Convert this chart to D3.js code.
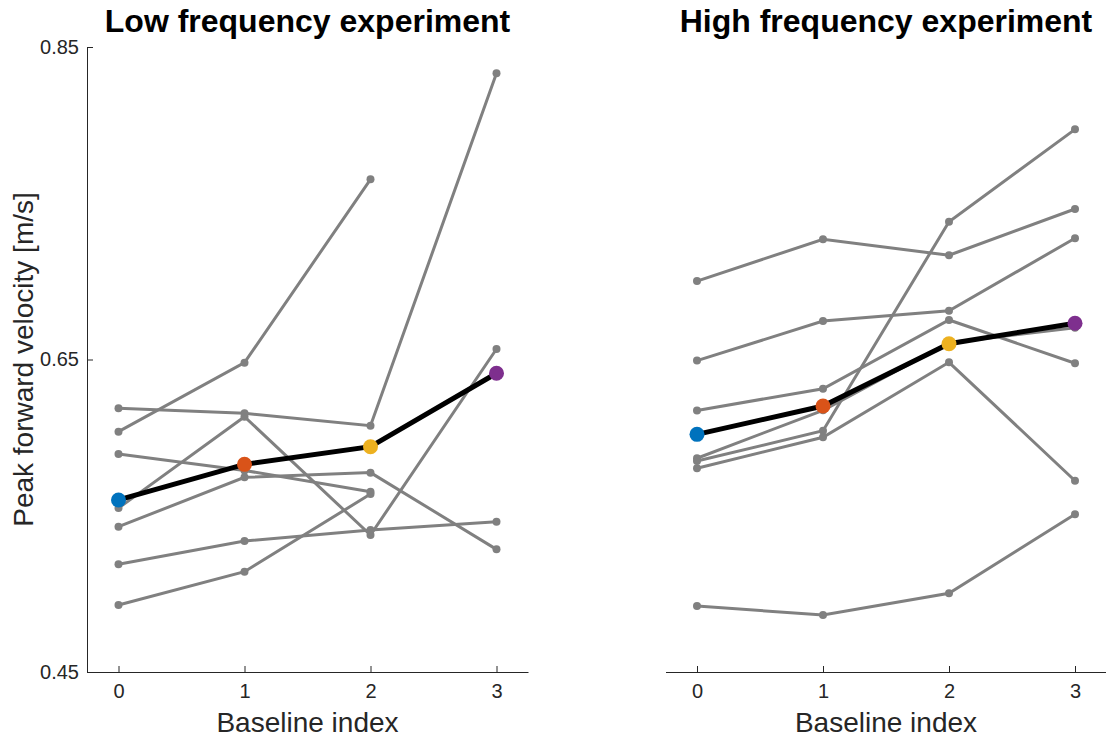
<!DOCTYPE html>
<html lang="en">
<head>
<meta charset="UTF-8">
<title>Peak forward velocity</title>
<script src="https://d3js.org/d3.v7.min.js"></script>
<style>
  body { margin: 0; background: #fff; }
  text { font-family: "Liberation Sans", Arial, Helvetica, sans-serif; fill: #262626; }
</style>
</head>
<body>
<div id="main"></div>
<script>
// baseline indices on the x axis
var baselineIdx = [0, 1, 2, 3]
var yTicks = [0.45, 0.65, 0.85]

// low frequency experiment, one array per subject (null = no value)
var lowSubjects = [
  [0.6188, 0.6156, 0.6076, 0.8332],
  [0.6038, 0.6480, 0.7653, null],
  [0.5549, 0.6134, 0.5377, 0.6567],
  [0.5430, 0.5746, 0.5776, 0.5285],
  [0.5895, 0.5790, 0.5654, null],
  [0.5189, 0.5338, 0.5409, 0.5462],
  [0.4929, 0.5142, 0.5639, null]
]
var lowMean = [0.5601, 0.5829, 0.5942, 0.6412]

// high frequency experiment
var highSubjects = [
  [0.7002, 0.7269, 0.7167, 0.7463],
  [0.6493, 0.6746, 0.6812, 0.7276],
  [0.6174, 0.6313, 0.6753, 0.6476],
  [0.5850, 0.6044, 0.7382, 0.7973],
  [0.5804, 0.6002, 0.6482, 0.5724],
  [0.5868, 0.6175, 0.6607, 0.6703],
  [0.4922, 0.4865, 0.5004, 0.5509]
]
var highMean = [0.6021, 0.6202, 0.6601, 0.6732]

var meanColors = ['#0072BD', '#D95319', '#EDB120', '#7E2F8E']

var width = 1106, height = 738
var plotTop = 47, plotBottom = 672

var svg = d3.select('#main').append('svg')
    .attr('width', width)
    .attr('height', height)

var yScale = d3.scaleLinear().domain([0.45, 0.85]).range([plotBottom, plotTop])

function panel(x0, x1, title, subjects, means, showY) {
  var xScale = d3.scaleLinear().domain([-0.25, 3.25]).range([x0, x1])
  var g = svg.append('g')

  // x axis, ticks pointing inward like matlab
  var xa = g.append('g')
      .attr('transform', `translate(0,${plotBottom})`)
      .call(d3.axisBottom(xScale).tickValues(baselineIdx).tickFormat(d3.format('d'))
        .tickSizeInner(-6).tickSizeOuter(0).tickPadding(12))
  xa.selectAll('path,line').attr('stroke', '#262626')
  xa.selectAll('text').style('font-size', '20px')

  if (showY) {
    var ya = g.append('g')
        .attr('transform', `translate(${x0},0)`)
        .call(d3.axisLeft(yScale).tickValues(yTicks).tickFormat(d3.format('.2f'))
          .tickSizeInner(-6).tickSizeOuter(0).tickPadding(8))
    ya.selectAll('path,line').attr('stroke', '#262626')
    ya.selectAll('text').style('font-size', '20px')
  }

  g.append('text')
      .attr('x', (x0 + x1) / 2)
      .attr('y', 32)
      .attr('text-anchor', 'middle')
      .style('font-size', '32px')
      .style('font-weight', 'bold')
      .style('fill', '#000')
      .text(title)

  g.append('text')
      .attr('x', (x0 + x1) / 2)
      .attr('y', 732)
      .attr('text-anchor', 'middle')
      .style('font-size', '28px')
      .text('Baseline index')

  var line = d3.line()
      .defined(d => d != null)
      .x((d, i) => xScale(baselineIdx[i]))
      .y(d => yScale(d))

  // single subjects in gray
  subjects.forEach(function (s) {
    g.append('path')
        .attr('d', line(s))
        .attr('stroke', '#808080')
        .attr('stroke-width', 3)
        .attr('fill', 'none')
    g.selectAll(null)
        .data(s.map((v, i) => ({ v: v, i: i })).filter(d => d.v != null))
        .enter()
        .append('circle')
        .attr('cx', d => xScale(baselineIdx[d.i]))
        .attr('cy', d => yScale(d.v))
        .attr('r', 4)
        .attr('fill', '#808080')
  })

  // mean line
  g.append('path')
      .attr('d', line(means))
      .attr('stroke', '#000')
      .attr('stroke-width', 5)
      .attr('fill', 'none')
  g.selectAll(null)
      .data(means)
      .enter()
      .append('circle')
      .attr('cx', (d, i) => xScale(baselineIdx[i]))
      .attr('cy', d => yScale(d))
      .attr('r', 7.5)
      .attr('fill', (d, i) => meanColors[i])
}

panel(87, 528, 'Low frequency experiment', lowSubjects, lowMean, true)
panel(665.5, 1106.5, 'High frequency experiment', highSubjects, highMean, false)

svg.append('text')
    .attr('transform', `translate(33,${(plotTop + plotBottom) / 2}) rotate(-90)`)
    .attr('text-anchor', 'middle')
    .style('font-size', '28px')
    .text('Peak forward velocity [m/s]')
</script>
</body>
</html>
